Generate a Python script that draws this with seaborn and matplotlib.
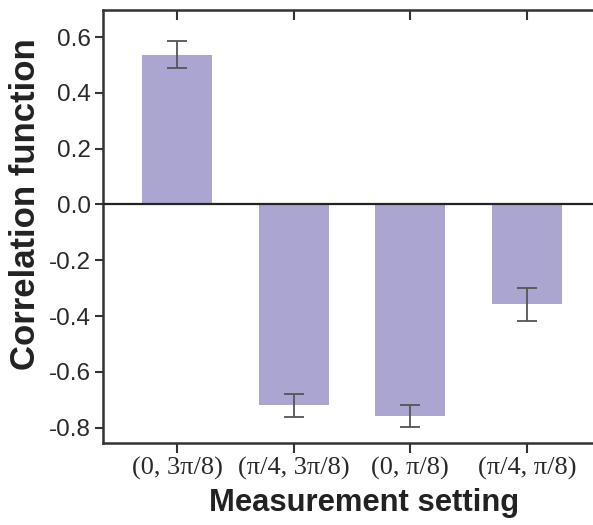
import matplotlib
matplotlib.use("Agg")
import matplotlib.pyplot as plt
import seaborn as sns
import pandas as pd

settings = ["(0, 3π/8)", "(π/4, 3π/8)", "(0, π/8)", "(π/4, π/8)"]
values = [0.537, -0.720, -0.758, -0.358]
errors = [0.049, 0.041, 0.039, 0.058]
yticks = [-0.8, -0.6, -0.4, -0.2, 0.0, 0.2, 0.4, 0.6]

sns.set_style("ticks")
plt.rcParams['font.family'] = ['Liberation Sans', 'DejaVu Sans']

df = pd.DataFrame({"setting": settings, "value": values})

fig = plt.figure(figsize=(5.93, 5.25), dpi=100)
ax = fig.add_axes([0.1737, 0.1562, 0.8398, 0.8248])

sns.barplot(data=df, x="setting", y="value", color="#aba5d1", saturation=1,
            width=0.6, errorbar=None, ax=ax, linewidth=0)
ax.errorbar(range(len(settings)), values, yerr=errors, fmt="none",
            ecolor="#555555", elinewidth=1.3, capsize=7, capthick=1.3, zorder=5)
ax.axhline(0, color="#222222", lw=1.6, zorder=4)

ax.set_xlim(-0.634, 3.634)
ax.set_ylim(-0.855, 0.697)
ax.set_yticks(yticks)
ax.set_yticklabels([f"{t:.1f}" for t in yticks], fontsize=17.5, color="#2a2a2a")
ax.set_xticks(range(len(settings)))
ax.set_xticklabels(settings, fontsize=19, family=["Liberation Serif", "DejaVu Serif"],
                   color="#2a2a2a")

for s in ax.spines.values():
    s.set_visible(True)
    s.set_linewidth(1.8)
    s.set_color("#333333")

ax.tick_params(axis="y", which="both", direction="out", length=6, width=1.5,
               color="#333333", right=True, labelright=False, pad=3)
ax.tick_params(axis="x", which="both", direction="out", length=7, width=1.5,
               color="#333333", top=True, pad=3)
for t in ax.xaxis.get_major_ticks():
    t.tick2line.set_marker(3)  # top ticks point down (inward)
for t in ax.yaxis.get_major_ticks():
    t.tick2line.set_marker(0)  # right ticks point left (inward)

ax.set_xlabel("Measurement setting", fontsize=22.3, fontweight="bold", color="#222222",
              labelpad=4)
ax.xaxis.set_label_coords(0.524, -0.105)
ax.set_ylabel("Correlation function", fontsize=25, fontweight="bold", color="#222222")
ax.yaxis.set_label_coords(-0.123, 0.552)

fig.savefig("out.png", dpi=100)
